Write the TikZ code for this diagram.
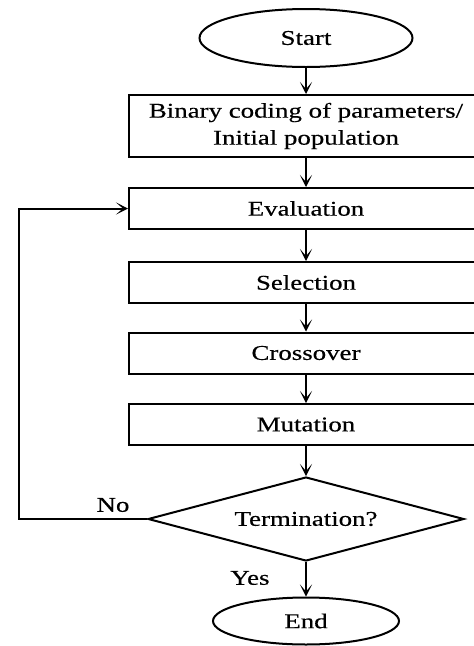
\documentclass[tikz,border=0pt]{standalone}
\usepackage{fontspec}
\setmainfont{Liberation Serif}[FakeStretch=1.28,FakeBold=0.4]
\usetikzlibrary{shapes.geometric,arrows.meta}
\tikzset{
  blk/.style={draw,line width=2pt,minimum width=354pt,minimum height=41pt,inner sep=0pt},
  term/.style={draw,ellipse,line width=2pt,inner sep=0pt},
  arr/.style={line width=2pt,-{Stealth[length=12pt,width=12pt,inset=7pt]}},
}
\begin{document}
\begin{tikzpicture}[x=1pt,y=-1pt,font=\fontsize{21}{27}\selectfont]
\useasboundingbox(0,0)rectangle(474,646);
\clip(0,0)rectangle(474,646);
\node[term,minimum width=213pt,minimum height=58pt](start)at(306,38){Start};
\node[blk,minimum height=62pt,align=center](init)at(306,126){Binary coding of parameters/\\Initial population};
\foreach \nm/\yy/\lb in {eval/208.5/Evaluation,sel/282.5/Selection,cross/353/Crossover,mut/424.5/Mutation}{
\node[blk](\nm)at(306,\yy){\lb};}
\node[draw,diamond,line width=2pt,minimum width=316pt,minimum height=84pt,inner sep=0pt,aspect=3.76](test)at(306,519){Termination?};
\node[term,minimum width=186pt,minimum height=47pt](end)at(306,621){End};
\foreach \a/\b in {start/init,init/eval,eval/sel,sel/cross,cross/mut,mut/test,test/end}{\draw[arr](\a)--(\b);}
\draw[arr](test.west)--++(-128,0)|-(eval.west);
\node(no)at(113,505){No};
\node(yes)at(250,578){Yes};
\end{tikzpicture}
\end{document}
